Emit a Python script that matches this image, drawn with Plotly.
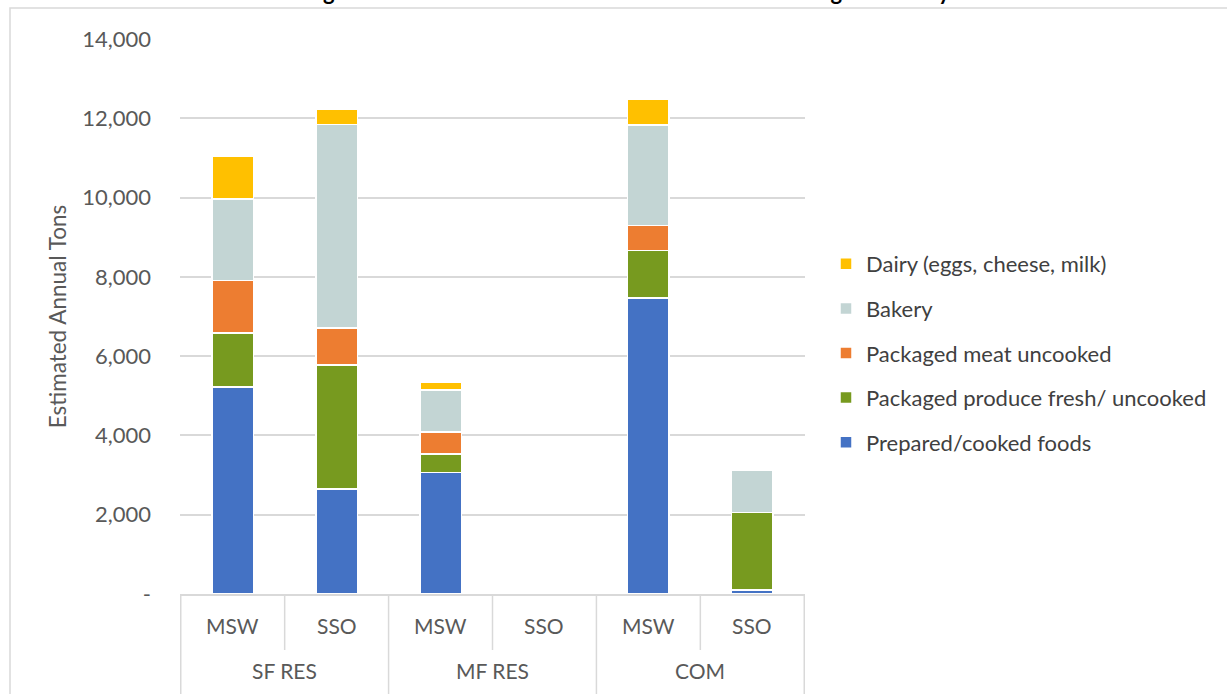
import plotly.graph_objects as go

sectors = ["SF RES", "SF RES", "MF RES", "MF RES", "COM", "COM"]
streams = ["MSW", "SSO", "MSW", "SSO", "MSW", "SSO"]
sector_names = ["SF RES", "MF RES", "COM"]

prepared = [5220, 2650, 3070, 0, 7470, 100]
produce = [1370, 3130, 460, 0, 1190, 1950]
meat = [1320, 925, 560, 0, 630, 0]
bakery = [2050, 5140, 1050, 0, 2540, 1077]
dairy = [1070, 380, 200, 0, 660, 0]

series_names = [
    "Prepared/cooked foods",
    "Packaged produce fresh/ uncooked",
    "Packaged meat uncooked",
    "Bakery",
    "Dairy (eggs, cheese, milk)",
]
series_values = [prepared, produce, meat, bakery, dairy]
colors = ["#4472C4", "#779A1F", "#ED7D31", "#C3D5D4", "#FFC000"]

y_ticks = [0, 2000, 4000, 6000, 8000, 10000, 12000, 14000]
y_ticktext = ["-", "2,000", "4,000", "6,000", "8,000", "10,000", "12,000", "14,000"]

title_text = "Figure 4: Food Service and Retail Edible Food in Packaged Food by Sector"

FONT = "Lato, Open Sans, sans-serif"
GRID = "#D9D9D9"
TXT = "#595959"

fig = go.Figure()
n = len(series_names)
for i, (name, vals, col) in enumerate(zip(series_names, series_values, colors)):
    fig.add_trace(go.Bar(
        x=[sectors, streams], y=vals, name=name, legendgroup=name,
        legendrank=n - i,
        marker=dict(color=col, line=dict(color="white", width=1.5)),
    ))

# body margin removed via post_script -> figure px = screen px
W, H = 1227, 694
L, R, T, B = 180, 805, 39, 594
pw, ph = R - L, B - T

def py(screen_y):
    """paper y for a screen pixel y"""
    return (B - screen_y) / ph

def px(screen_x):
    return (screen_x - L) / pw

fig.update_layout(
    width=W, height=H,
    barmode="stack", bargap=0.6,
    paper_bgcolor="white", plot_bgcolor="white",
    margin=dict(l=L, r=W - R, t=T, b=H - B, autoexpand=False),
    font=dict(family=FONT, color=TXT, size=20),
    legend=dict(
        x=px(826), xanchor="left",
        y=py(353), yanchor="middle",
        traceorder="grouped", tracegroupgap=13,
        font=dict(size=22, color="#404040", family=FONT),
        itemwidth=30, bgcolor="rgba(0,0,0,0)",
    ),
    xaxis=dict(
        type="multicategory",
        showline=True, linecolor=GRID, linewidth=1.5,
        showgrid=False, ticks="", showticklabels=False,
        showdividers=False,
    ),
    yaxis=dict(
        range=[0, 14000], tickvals=y_ticks, ticktext=y_ticktext,
        showgrid=True, gridcolor=GRID, gridwidth=1.5,
        zeroline=False, showline=False, ticks="",
        ticklabelstandoff=28,
        tickfont=dict(size=22, color=TXT, family=FONT),
        title=dict(text="Estimated Annual Tons", standoff=9,
                   font=dict(size=22.5, color=TXT, family=FONT)),
    ),
)

# clipped chart title (as in the reference: only the bottom edge shows)
fig.add_annotation(x=px(662), y=py(7), xref="paper", yref="paper",
                   text="<b>" + title_text + "</b>", showarrow=False,
                   xanchor="center", yanchor="bottom",
                   font=dict(size=22, color="#000000", family=FONT))

# category labels (two levels, Excel style)
for i, s in enumerate(streams):
    fig.add_annotation(x=i, y=py(625), xref="x", yref="paper", text=s,
                       showarrow=False, yanchor="middle",
                       font=dict(size=21, color=TXT, family=FONT))
for j, g in enumerate(sector_names):
    fig.add_annotation(x=2 * j + 0.5, y=py(670), xref="x", yref="paper", text=g,
                       showarrow=False, yanchor="middle",
                       font=dict(size=21, color=TXT, family=FONT))

# dividers between streams (short) and between sectors (full height)
for j in range(len(sector_names)):
    xi = 2 * j + 0.5
    fig.add_shape(type="line", xref="x", yref="paper",
                  x0=xi, x1=xi, y0=0, y1=py(650),
                  line=dict(color=GRID, width=1.5))
for xi in [-0.5, 1.5, 3.5, 5.5]:
    fig.add_shape(type="line", xref="x", yref="paper",
                  x0=xi, x1=xi, y0=0, y1=py(720),
                  line=dict(color=GRID, width=1.5))

# outer chart border
fig.add_shape(type="rect", xref="paper", yref="paper",
              x0=px(10), x1=px(W + 40),
              y0=py(740), y1=py(8),
              line=dict(color=GRID, width=1.5), fillcolor="rgba(0,0,0,0)",
              layer="below")

fig.write_html("out.html",
               config={"displayModeBar": False},
               post_script="document.body.style.margin='0';document.body.style.overflow='hidden';")
